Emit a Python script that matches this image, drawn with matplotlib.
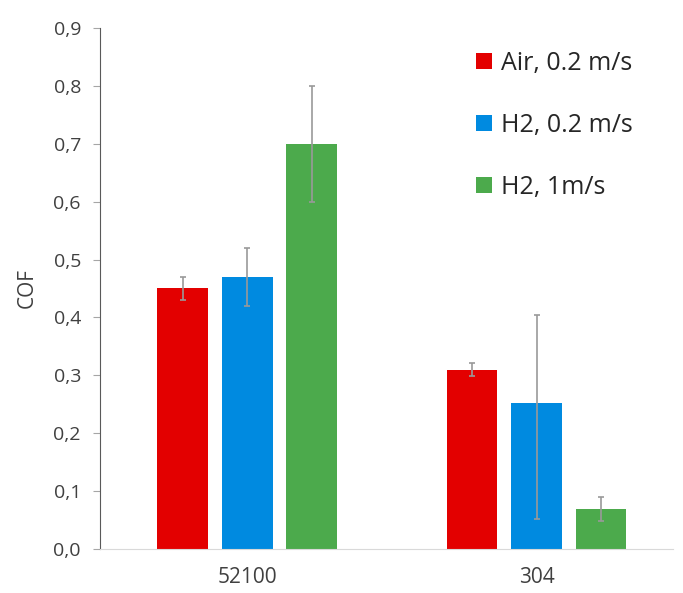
import matplotlib.pyplot as plt
import numpy as np

plt.rcParams['font.family'] = ['Open Sans', 'DejaVu Sans']

materials = ['52100', '304']
series = ['Air, 0.2 m/s', 'H2, 0.2 m/s', 'H2, 1m/s']
cof = [[0.45, 0.31], [0.47, 0.252], [0.70, 0.069]]
# lower / upper error for each series
err_lo = [[0.02, 0.011], [0.05, 0.20], [0.10, 0.02]]
err_hi = [[0.02, 0.011], [0.05, 0.152], [0.10, 0.02]]
colors = ['#e30000', '#008ae0', '#4caa4c']

fig = plt.figure(figsize=(6.83, 5.93), dpi=100)
ax = fig.add_axes([0.147, 0.0742, 0.838, 0.8786])

x = np.arange(len(materials))
width = 0.176
step = 0.223
for i, name in enumerate(series):
    ax.bar(x + (i - 1) * step, cof[i], width, color=colors[i], label=name,
           yerr=[err_lo[i], err_hi[i]],
           error_kw=dict(ecolor='#999999', elinewidth=1.2, capsize=2.5, capthick=1.2))

ax.set_xlim(-0.508, 1.471)
ax.set_ylim(0, 0.9)
yt = np.arange(0, 0.91, 0.1)
ax.set_yticks(yt)
ax.set_yticklabels([f'{v:.1f}'.replace('.', ',') for v in yt])
ax.set_xticks(x)
ax.set_xticklabels(materials)

ax.spines['top'].set_visible(False)
ax.spines['right'].set_visible(False)
ax.spines['left'].set_color('#595959')
ax.spines['bottom'].set_color('#d9d9d9')
ax.tick_params(axis='y', length=5, color='#a6a6a6', labelsize=14, labelcolor='#404040', pad=9)
ax.tick_params(axis='x', length=0, labelsize=15, labelcolor='#404040', pad=13)
ax.set_ylabel('COF', fontsize=15, color='#404040', labelpad=11)

leg = ax.legend(loc='upper left', bbox_to_anchor=(476 / 683, 1 - 51 / 593),
                bbox_transform=fig.transFigure, frameon=False, fontsize=18,
                borderpad=0, borderaxespad=0, handlelength=0.64, handleheight=0.64,
                handletextpad=0.36, labelspacing=1.48)
for t in leg.get_texts():
    t.set_color('#262626')

plt.savefig('out.png', dpi=100)
